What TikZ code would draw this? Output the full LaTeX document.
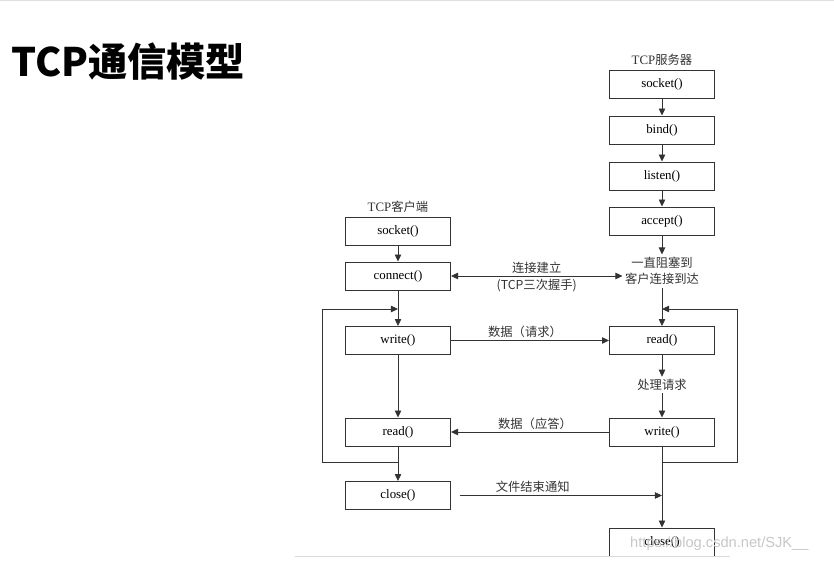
\documentclass[tikz,border=0pt]{standalone}
\usepackage{fontspec}
\setmainfont{Liberation Serif}
\newfontfamily\cjk{Noto Sans CJK SC}
\newfontfamily\wmfont{Liberation Sans}
\usetikzlibrary{arrows.meta,calc}

\tikzset{
	box/.style={draw=black!80, line width=0.8pt, minimum width=3.15cm, minimum height=0.84cm, inner sep=0pt, font=\fontsize{11}{13}\selectfont},
	note/.style={font=\cjk\fontsize{10.5}{14}\selectfont, text=black!80, inner sep=2pt},
	link/.style={draw=black!80, line width=0.7pt, -{Triangle[length=6pt,width=5.5pt]}},
}

\begin{document}
\begin{tikzpicture}[x=0.03cm, y=-0.03cm]
			%%%%% START %%%%%
			\useasboundingbox (0,0) rectangle (834,564);
			\draw[black!12, line width=1pt] (0,0.6) -- (834,0.6);
			
			\node[anchor=west, inner sep=0pt, font=\cjk\bfseries\fontsize{33.5}{36}\selectfont] (title) at (11,62) {TCP通信模型};
			
			% client
			\node[font=\fontsize{11}{13}\selectfont, text=black!80] (ctitle) at (398,207) {TCP{\cjk\fontsize{10.5}{13}\selectfont 客户端}};
			\node[box] (csock) at (398,231.5) {socket()};
			\node[box] (cconn) at (398,276) {connect()};
			\node[box] (cwrite) at (398,340.5) {write()};
			\node[box] (cread) at (398,432) {read()};
			\node[box] (cclose) at (398,495.5) {close()};
			
			% server
			\node[font=\fontsize{11}{13}\selectfont, text=black!80] (stitle) at (662,60) {TCP{\cjk\fontsize{10.5}{13}\selectfont 服务器}};
			\node[box] (ssock) at (662,84) {socket()};
			\node[box] (sbind) at (662,130) {bind()};
			\node[box] (slisten) at (662,176) {listen()};
			\node[box] (saccept) at (662,221) {accept()};
			\node[note, align=center] (swait) at (662,271) {一直阻塞到\\客户连接到达};
			\node[box] (sread) at (662,340.5) {read()};
			\node[note] (sproc) at (662,385) {处理请求};
			\node[box] (swrite) at (662,432) {write()};
			\node[box] (sclose) at (662,542) {close()};
			
			\coordinate (cl1) at (322,462);
			\coordinate (cl2) at (322,309);
			\coordinate (sl1) at (737,462);
			\coordinate (sl2) at (737,309);
			
			% client flow
			\draw[link] (csock) -- (cconn);
			\draw[link] (cconn) -- (cwrite);
			\draw[link] (cwrite) -- (cread);
			\draw[link] (cread) -- (cclose);
			\draw[link] (cread.south) -- (cread.south |- cl1) -- (cl1) -- (cl2) -- (cl2 -| cwrite.north);
			
			% server flow
			\draw[link] (ssock) -- (sbind);
			\draw[link] (sbind) -- (slisten);
			\draw[link] (slisten) -- (saccept);
			\draw[link] (saccept) -- (swait);
			\draw[link] (swait) -- (sread);
			\draw[link] (sread) -- (sproc);
			\draw[link] (sproc) -- (swrite);
			\draw[link] (swrite) -- (sclose);
			\draw[link] (swrite.south) -- (swrite.south |- sl1) -- (sl1) -- (sl2) -- (sl2 -| sread.north);
			
			% messages
			\draw[link, {Triangle[length=6pt,width=5.5pt]}-{Triangle[length=6pt,width=5.5pt]}] (cconn.east) -- (cconn.east -| swait.west)
				node[note, midway, above] (hs1) {连接建立}
				node[note, midway, below] (hs2) {(TCP三次握手)};
			\draw[link] (cwrite) -- (sread) node[note, midway, above, xshift=-0.15cm] (req) {数据（请求）};
			\draw[link] (swrite) -- (cread) node[note, midway, above, xshift=0.15cm] (resp) {数据（应答）};
			\draw[link] ([xshift=0.27cm]cclose.east) -- (cclose.east -| sclose.north) node[note, pos=0.36, above] (eof) {文件结束通知};
			
			\draw[black!15, line width=0.8pt] (295,556.5) -- (730,556.5);
			\node[anchor=west, inner sep=0pt, text=black!22, font=\wmfont\fontsize{12.5}{14}\selectfont] (wm) at (630,544) {https://blog.csdn.net/SJK\_\_};
			%%%%% END %%%%%
\end{tikzpicture}
\end{document}
